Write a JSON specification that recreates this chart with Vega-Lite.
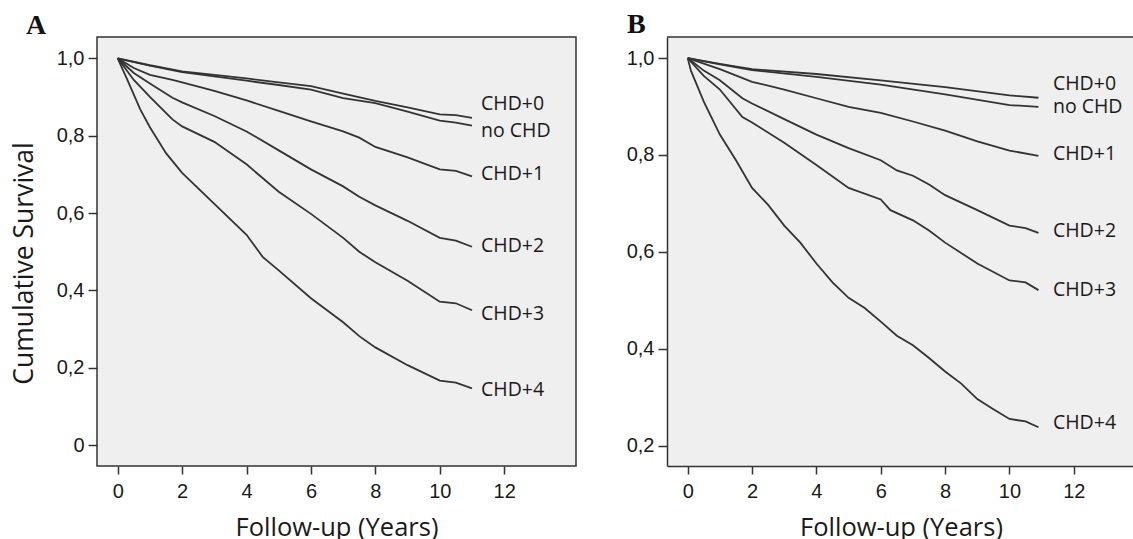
{
  "$schema": "https://vega.github.io/schema/vega-lite/v6.json",
  "padding": {"left": 10, "top": 11, "right": 0, "bottom": 0},
  "background": "white",
  "spacing": 91,
  "bounds": "flush",
  "config": {
    "view": {"fill": "#efefef", "stroke": null},
    "axis": {
      "labelFont": "Liberation Sans", "labelFontSize": 20, "labelColor": "#1a1a1a",
      "tickColor": "#333333", "tickWidth": 1.5, "domainColor": "#333333", "domainWidth": 1.5,
      "grid": false, "titleFont": "Open Sans", "titleFontWeight": "normal", "titleColor": "#1a1a1a"
    },
    "title": {"font": "Liberation Serif", "fontSize": 28, "fontWeight": "bold", "anchor": "start", "frame": "group", "baseline": "alphabetic", "offset": -3, "color": "#111111"}
  },
  "datasets": {
    "curvesA": [
      {"group": "CHD+0", "t": 0, "s": 1}, {"group": "CHD+0", "t": 1, "s": 0.982}, {"group": "CHD+0", "t": 2, "s": 0.966}, {"group": "CHD+0", "t": 3, "s": 0.957}, {"group": "CHD+0", "t": 4, "s": 0.948}, {"group": "CHD+0", "t": 5, "s": 0.938}, {"group": "CHD+0", "t": 6, "s": 0.928}, {"group": "CHD+0", "t": 7, "s": 0.909}, {"group": "CHD+0", "t": 8, "s": 0.89}, {"group": "CHD+0", "t": 9, "s": 0.873}, {"group": "CHD+0", "t": 10, "s": 0.855}, {"group": "CHD+0", "t": 10.5, "s": 0.853}, {"group": "CHD+0", "t": 11, "s": 0.846},
      {"group": "no CHD", "t": 0, "s": 1}, {"group": "no CHD", "t": 1, "s": 0.981}, {"group": "no CHD", "t": 2, "s": 0.964}, {"group": "no CHD", "t": 3, "s": 0.953}, {"group": "no CHD", "t": 4, "s": 0.942}, {"group": "no CHD", "t": 5, "s": 0.931}, {"group": "no CHD", "t": 6, "s": 0.919}, {"group": "no CHD", "t": 7, "s": 0.897}, {"group": "no CHD", "t": 8, "s": 0.884}, {"group": "no CHD", "t": 9, "s": 0.862}, {"group": "no CHD", "t": 10, "s": 0.839}, {"group": "no CHD", "t": 10.5, "s": 0.834}, {"group": "no CHD", "t": 11, "s": 0.826},
      {"group": "CHD+1", "t": 0, "s": 1}, {"group": "CHD+1", "t": 0.5, "s": 0.975}, {"group": "CHD+1", "t": 1, "s": 0.957}, {"group": "CHD+1", "t": 1.7, "s": 0.944}, {"group": "CHD+1", "t": 2, "s": 0.938}, {"group": "CHD+1", "t": 3, "s": 0.916}, {"group": "CHD+1", "t": 4, "s": 0.891}, {"group": "CHD+1", "t": 5, "s": 0.864}, {"group": "CHD+1", "t": 6, "s": 0.837}, {"group": "CHD+1", "t": 7, "s": 0.811}, {"group": "CHD+1", "t": 7.5, "s": 0.795}, {"group": "CHD+1", "t": 8, "s": 0.771}, {"group": "CHD+1", "t": 9, "s": 0.744}, {"group": "CHD+1", "t": 10, "s": 0.713}, {"group": "CHD+1", "t": 10.5, "s": 0.709}, {"group": "CHD+1", "t": 11, "s": 0.695},
      {"group": "CHD+2", "t": 0, "s": 1}, {"group": "CHD+2", "t": 0.5, "s": 0.962}, {"group": "CHD+2", "t": 1, "s": 0.935}, {"group": "CHD+2", "t": 1.7, "s": 0.898}, {"group": "CHD+2", "t": 2, "s": 0.886}, {"group": "CHD+2", "t": 3, "s": 0.851}, {"group": "CHD+2", "t": 4, "s": 0.811}, {"group": "CHD+2", "t": 5, "s": 0.762}, {"group": "CHD+2", "t": 6, "s": 0.713}, {"group": "CHD+2", "t": 7, "s": 0.669}, {"group": "CHD+2", "t": 7.5, "s": 0.642}, {"group": "CHD+2", "t": 8, "s": 0.62}, {"group": "CHD+2", "t": 9, "s": 0.58}, {"group": "CHD+2", "t": 10, "s": 0.536}, {"group": "CHD+2", "t": 10.5, "s": 0.529}, {"group": "CHD+2", "t": 11, "s": 0.513},
      {"group": "CHD+3", "t": 0, "s": 1}, {"group": "CHD+3", "t": 0.5, "s": 0.944}, {"group": "CHD+3", "t": 1, "s": 0.9}, {"group": "CHD+3", "t": 1.7, "s": 0.842}, {"group": "CHD+3", "t": 2, "s": 0.824}, {"group": "CHD+3", "t": 3, "s": 0.784}, {"group": "CHD+3", "t": 4, "s": 0.726}, {"group": "CHD+3", "t": 5, "s": 0.655}, {"group": "CHD+3", "t": 6, "s": 0.598}, {"group": "CHD+3", "t": 7, "s": 0.536}, {"group": "CHD+3", "t": 7.5, "s": 0.5}, {"group": "CHD+3", "t": 8, "s": 0.473}, {"group": "CHD+3", "t": 9, "s": 0.425}, {"group": "CHD+3", "t": 10, "s": 0.371}, {"group": "CHD+3", "t": 10.5, "s": 0.367}, {"group": "CHD+3", "t": 11, "s": 0.349},
      {"group": "CHD+4", "t": 0, "s": 1}, {"group": "CHD+4", "t": 0.3, "s": 0.944}, {"group": "CHD+4", "t": 0.7, "s": 0.868}, {"group": "CHD+4", "t": 1, "s": 0.822}, {"group": "CHD+4", "t": 1.5, "s": 0.755}, {"group": "CHD+4", "t": 2, "s": 0.704}, {"group": "CHD+4", "t": 3, "s": 0.624}, {"group": "CHD+4", "t": 4, "s": 0.544}, {"group": "CHD+4", "t": 4.5, "s": 0.487}, {"group": "CHD+4", "t": 5, "s": 0.452}, {"group": "CHD+4", "t": 6, "s": 0.38}, {"group": "CHD+4", "t": 7, "s": 0.318}, {"group": "CHD+4", "t": 7.5, "s": 0.282}, {"group": "CHD+4", "t": 8, "s": 0.253}, {"group": "CHD+4", "t": 9, "s": 0.207}, {"group": "CHD+4", "t": 10, "s": 0.167}, {"group": "CHD+4", "t": 10.5, "s": 0.162}, {"group": "CHD+4", "t": 11, "s": 0.147}
    ],
    "labelsA": [
      {"group": "CHD+0", "lx": 11.28, "ly": 0.883},
      {"group": "no CHD", "lx": 11.28, "ly": 0.812},
      {"group": "CHD+1", "lx": 11.28, "ly": 0.702},
      {"group": "CHD+2", "lx": 11.28, "ly": 0.515},
      {"group": "CHD+3", "lx": 11.28, "ly": 0.34},
      {"group": "CHD+4", "lx": 11.28, "ly": 0.142}
    ],
    "curvesB": [
      {"group": "CHD+0", "t": 0, "s": 1}, {"group": "CHD+0", "t": 1, "s": 0.988}, {"group": "CHD+0", "t": 2, "s": 0.977}, {"group": "CHD+0", "t": 4, "s": 0.967}, {"group": "CHD+0", "t": 6, "s": 0.954}, {"group": "CHD+0", "t": 8, "s": 0.94}, {"group": "CHD+0", "t": 10, "s": 0.923}, {"group": "CHD+0", "t": 10.9, "s": 0.918},
      {"group": "no CHD", "t": 0, "s": 1}, {"group": "no CHD", "t": 1, "s": 0.987}, {"group": "no CHD", "t": 2, "s": 0.975}, {"group": "no CHD", "t": 4, "s": 0.961}, {"group": "no CHD", "t": 6, "s": 0.945}, {"group": "no CHD", "t": 8, "s": 0.925}, {"group": "no CHD", "t": 10, "s": 0.903}, {"group": "no CHD", "t": 10.9, "s": 0.899},
      {"group": "CHD+1", "t": 0, "s": 1}, {"group": "CHD+1", "t": 1, "s": 0.977}, {"group": "CHD+1", "t": 2, "s": 0.951}, {"group": "CHD+1", "t": 3, "s": 0.935}, {"group": "CHD+1", "t": 4, "s": 0.917}, {"group": "CHD+1", "t": 5, "s": 0.899}, {"group": "CHD+1", "t": 6, "s": 0.887}, {"group": "CHD+1", "t": 7, "s": 0.869}, {"group": "CHD+1", "t": 8, "s": 0.85}, {"group": "CHD+1", "t": 9, "s": 0.828}, {"group": "CHD+1", "t": 10, "s": 0.809}, {"group": "CHD+1", "t": 10.9, "s": 0.798},
      {"group": "CHD+2", "t": 0, "s": 1}, {"group": "CHD+2", "t": 0.5, "s": 0.974}, {"group": "CHD+2", "t": 1, "s": 0.954}, {"group": "CHD+2", "t": 1.7, "s": 0.917}, {"group": "CHD+2", "t": 2, "s": 0.906}, {"group": "CHD+2", "t": 3, "s": 0.874}, {"group": "CHD+2", "t": 4, "s": 0.842}, {"group": "CHD+2", "t": 5, "s": 0.814}, {"group": "CHD+2", "t": 6, "s": 0.789}, {"group": "CHD+2", "t": 6.5, "s": 0.768}, {"group": "CHD+2", "t": 7, "s": 0.757}, {"group": "CHD+2", "t": 7.5, "s": 0.739}, {"group": "CHD+2", "t": 8, "s": 0.717}, {"group": "CHD+2", "t": 9, "s": 0.686}, {"group": "CHD+2", "t": 10, "s": 0.654}, {"group": "CHD+2", "t": 10.5, "s": 0.649}, {"group": "CHD+2", "t": 10.9, "s": 0.639},
      {"group": "CHD+3", "t": 0, "s": 1}, {"group": "CHD+3", "t": 0.5, "s": 0.963}, {"group": "CHD+3", "t": 1, "s": 0.935}, {"group": "CHD+3", "t": 1.7, "s": 0.878}, {"group": "CHD+3", "t": 2, "s": 0.867}, {"group": "CHD+3", "t": 3, "s": 0.825}, {"group": "CHD+3", "t": 4, "s": 0.779}, {"group": "CHD+3", "t": 5, "s": 0.732}, {"group": "CHD+3", "t": 6, "s": 0.708}, {"group": "CHD+3", "t": 6.3, "s": 0.686}, {"group": "CHD+3", "t": 7, "s": 0.665}, {"group": "CHD+3", "t": 7.5, "s": 0.644}, {"group": "CHD+3", "t": 8, "s": 0.619}, {"group": "CHD+3", "t": 9, "s": 0.576}, {"group": "CHD+3", "t": 10, "s": 0.541}, {"group": "CHD+3", "t": 10.5, "s": 0.537}, {"group": "CHD+3", "t": 10.9, "s": 0.521},
      {"group": "CHD+4", "t": 0, "s": 1}, {"group": "CHD+4", "t": 0.1, "s": 0.974}, {"group": "CHD+4", "t": 0.5, "s": 0.91}, {"group": "CHD+4", "t": 1, "s": 0.842}, {"group": "CHD+4", "t": 1.5, "s": 0.789}, {"group": "CHD+4", "t": 2, "s": 0.732}, {"group": "CHD+4", "t": 2.5, "s": 0.697}, {"group": "CHD+4", "t": 3, "s": 0.654}, {"group": "CHD+4", "t": 3.5, "s": 0.619}, {"group": "CHD+4", "t": 4, "s": 0.576}, {"group": "CHD+4", "t": 4.5, "s": 0.537}, {"group": "CHD+4", "t": 5, "s": 0.505}, {"group": "CHD+4", "t": 5.5, "s": 0.484}, {"group": "CHD+4", "t": 6, "s": 0.456}, {"group": "CHD+4", "t": 6.5, "s": 0.427}, {"group": "CHD+4", "t": 7, "s": 0.407}, {"group": "CHD+4", "t": 7.5, "s": 0.381}, {"group": "CHD+4", "t": 8, "s": 0.353}, {"group": "CHD+4", "t": 8.5, "s": 0.328}, {"group": "CHD+4", "t": 9, "s": 0.296}, {"group": "CHD+4", "t": 9.5, "s": 0.275}, {"group": "CHD+4", "t": 10, "s": 0.255}, {"group": "CHD+4", "t": 10.5, "s": 0.25}, {"group": "CHD+4", "t": 10.9, "s": 0.238}
    ],
    "labelsB": [
      {"group": "CHD+0", "lx": 11.35, "ly": 0.947},
      {"group": "no CHD", "lx": 11.35, "ly": 0.898},
      {"group": "CHD+1", "lx": 11.35, "ly": 0.802},
      {"group": "CHD+2", "lx": 11.35, "ly": 0.644},
      {"group": "CHD+3", "lx": 11.35, "ly": 0.521},
      {"group": "CHD+4", "lx": 11.35, "ly": 0.246}
    ]
  },
  "hconcat": [
    {
      "width": 479,
      "height": 429,
      "title": {"text": "A", "dx": -71},
      "view": {"stroke": "#333333", "strokeWidth": 1.5},
      "layer": [
        {
          "data": {"name": "curvesA"},
          "mark": {"type": "line", "color": "#333333", "strokeWidth": 1.8},
          "encoding": {
            "x": {"field": "t", "type": "quantitative", "scale": {"domain": [-0.643, 14.23], "nice": false, "zero": false},
              "axis": {"values": [0, 2, 4, 6, 8, 10, 12], "title": "Follow-up (Years)", "titleFontSize": 25.5, "titlePadding": 14, "tickSize": 8, "labelPadding": 7, "domain": false}},
            "y": {"field": "s", "type": "quantitative", "scale": {"domain": [-0.0535, 1.055], "nice": false, "zero": false},
              "axis": {"values": [0, 0.2, 0.4, 0.6, 0.8, 1], "labelExpr": "datum.value == 0 ? '0' : replace(format(datum.value, '.1f'), '.', ',')", "title": "Cumulative Survival", "titleFontSize": 26.5, "titlePadding": 18, "titleY": 226, "tickSize": 9, "labelPadding": 4, "domain": false}},
            "detail": {"field": "group"}
          }
        },
        {
          "data": {"name": "labelsA"},
          "mark": {"type": "text", "align": "left", "baseline": "middle", "font": "Open Sans", "fontSize": 19.5, "color": "#1a1a1a"},
          "encoding": {
            "x": {"field": "lx", "type": "quantitative"},
            "y": {"field": "ly", "type": "quantitative"},
            "text": {"field": "group"}
          }
        }
      ]
    },
    {
      "width": 468,
      "height": 429,
      "title": {"text": "B", "dx": -40},
      "layer": [
        {
          "data": {"name": "curvesB"},
          "mark": {"type": "line", "color": "#333333", "strokeWidth": 1.8},
          "encoding": {
            "x": {"field": "t", "type": "quantitative", "scale": {"domain": [-0.643, 13.9], "nice": false, "zero": false},
              "axis": {"values": [0, 2, 4, 6, 8, 10, 12], "title": "Follow-up (Years)", "titleFontSize": 25.5, "titlePadding": 14, "tickSize": 8, "labelPadding": 7, "domain": true}},
            "y": {"field": "s", "type": "quantitative", "scale": {"domain": [0.158, 1.0434], "nice": false, "zero": false},
              "axis": {"values": [0.2, 0.4, 0.6, 0.8, 1], "labelExpr": "replace(format(datum.value, '.1f'), '.', ',')", "title": null, "tickSize": 9, "labelPadding": 4, "domain": true}},
            "detail": {"field": "group"}
          }
        },
        {
          "data": {"name": "labelsB"},
          "mark": {"type": "text", "align": "left", "baseline": "middle", "font": "Open Sans", "fontSize": 19.5, "color": "#1a1a1a"},
          "encoding": {
            "x": {"field": "lx", "type": "quantitative"},
            "y": {"field": "ly", "type": "quantitative"},
            "text": {"field": "group"}
          }
        },
        {
          "data": {"values": [{}]},
          "mark": {"type": "rule", "color": "#333333", "strokeWidth": 1.5},
          "encoding": {"y": {"datum": 1.0434}}
        }
      ]
    }
  ]
}
